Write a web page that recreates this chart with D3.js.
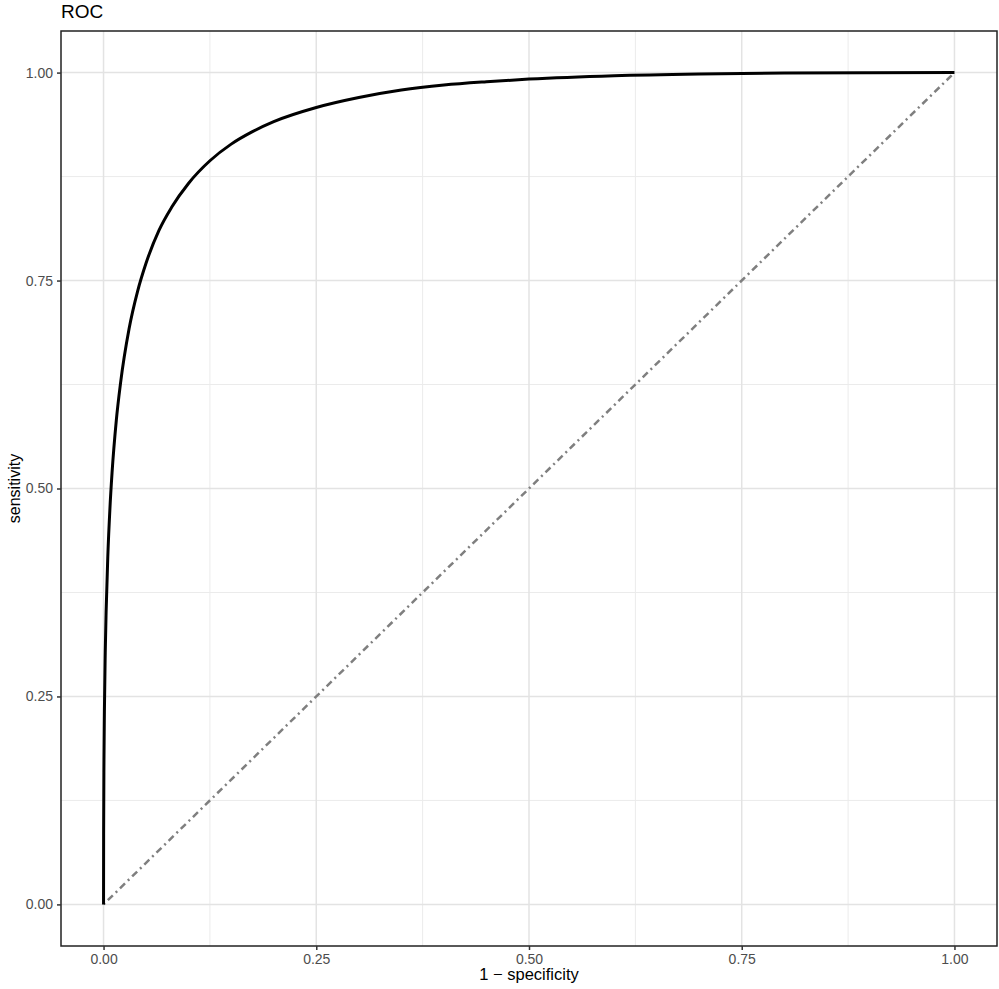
<!DOCTYPE html>
<html>
<head>
<meta charset="utf-8">
<script src="https://cdn.jsdelivr.net/npm/d3@7"></script>
<style>
  body { margin: 0; background: #fff; }
  text { font-family: "Liberation Sans", Arial, Helvetica, sans-serif; }
</style>
</head>
<body>
<div id="chart"></div>
<script>
// ROC curve
const fpr = [0, 0.0001, 0.0005, 0.001, 0.002, 0.003, 0.005, 0.0075, 0.01, 0.015, 0.02, 0.03, 0.04, 0.05, 0.065, 0.08, 0.10, 0.125, 0.15, 0.175, 0.20, 0.25, 0.30, 0.35, 0.40, 0.45, 0.50, 0.60, 0.70, 0.80, 0.90, 1.0];
const tpr = [0, 0.085, 0.174, 0.232, 0.303, 0.351, 0.418, 0.476, 0.519, 0.582, 0.627, 0.692, 0.737, 0.771, 0.810, 0.838, 0.867, 0.894, 0.914, 0.929, 0.941, 0.958, 0.970, 0.979, 0.985, 0.989, 0.9922, 0.9963, 0.9984, 0.9995, 0.9999, 1];
// chance line
const diagX = [0, 1];
const diagY = [0, 1];
const ticks = [0, 0.25, 0.5, 0.75, 1];
const minorTicks = [0.125, 0.375, 0.625, 0.875];

const W = 999, H = 989;
const margin = {top: 31, right: 2, bottom: 43, left: 61};
const width = W - margin.left - margin.right,
      height = H - margin.top - margin.bottom;

const svg = d3.select("#chart").append("svg")
  .attr("width", W).attr("height", H);

const g = svg.append("g")
  .attr("transform", `translate(${margin.left},${margin.top})`);

// ggplot style 5% expansion
const x = d3.scaleLinear().domain([-0.05, 1.05]).range([0, width]);
const y = d3.scaleLinear().domain([-0.05, 1.05]).range([height, 0]);

// grid
g.selectAll(".minx").data(minorTicks).join("line")
  .attr("x1", d => x(d)).attr("x2", d => x(d)).attr("y1", 0).attr("y2", height)
  .attr("stroke", "#ebebeb").attr("stroke-width", 1);
g.selectAll(".miny").data(minorTicks).join("line")
  .attr("y1", d => y(d)).attr("y2", d => y(d)).attr("x1", 0).attr("x2", width)
  .attr("stroke", "#ebebeb").attr("stroke-width", 1);
g.selectAll(".majx").data(ticks).join("line")
  .attr("x1", d => x(d)).attr("x2", d => x(d)).attr("y1", 0).attr("y2", height)
  .attr("stroke", "#e3e3e3").attr("stroke-width", 1.5);
g.selectAll(".majy").data(ticks).join("line")
  .attr("y1", d => y(d)).attr("y2", d => y(d)).attr("x1", 0).attr("x2", width)
  .attr("stroke", "#e3e3e3").attr("stroke-width", 1.5);

// diagonal
const diag = diagX.map((d, i) => [d, diagY[i]]);
g.append("path")
  .datum(diag)
  .attr("d", d3.line().x(d => x(d[0])).y(d => y(d[1])))
  .attr("fill", "none")
  .attr("stroke", "#7f7f7f")
  .attr("stroke-width", 2.5)
  .attr("stroke-dasharray", "2,4,7,4");

// ROC curve
const roc = fpr.map((d, i) => [d, tpr[i]]);
g.append("path")
  .datum(roc)
  .attr("d", d3.line().x(d => x(d[0])).y(d => y(d[1])).curve(d3.curveMonotoneX))
  .attr("fill", "none")
  .attr("stroke", "#000")
  .attr("stroke-width", 3);

// panel border
g.append("rect")
  .attr("width", width).attr("height", height)
  .attr("fill", "none").attr("stroke", "#222").attr("stroke-width", 1.5);

// axes
const fmt = d3.format(".2f");
const xAxis = g.append("g")
  .attr("transform", `translate(0,${height})`)
  .call(d3.axisBottom(x).tickValues(ticks).tickFormat(fmt).tickSize(4).tickPadding(4));
const yAxis = g.append("g")
  .call(d3.axisLeft(y).tickValues(ticks).tickFormat(fmt).tickSize(4).tickPadding(4));
[xAxis, yAxis].forEach(a => {
  a.select(".domain").remove();
  a.selectAll(".tick line").attr("stroke", "#333").attr("stroke-width", 1.5);
  a.selectAll(".tick text").attr("fill", "#4d4d4d").style("font-size", "14px")
    .style("font-family", "'Liberation Sans', Arial, sans-serif");
});

// title
svg.append("text")
  .attr("x", 61).attr("y", 18)
  .text("ROC")
  .style("font-size", "19px");

// x axis label
svg.append("text")
  .attr("text-anchor", "middle")
  .attr("x", margin.left + x(0.5)).attr("y", 980)
  .text("1 − specificity")
  .style("font-size", "16.5px");

// y axis label
svg.append("text")
  .attr("text-anchor", "middle")
  .attr("transform", `translate(20,${margin.top + y(0.5)}) rotate(-90)`)
  .text("sensitivity")
  .style("font-size", "16px");
</script>
</body>
</html>
